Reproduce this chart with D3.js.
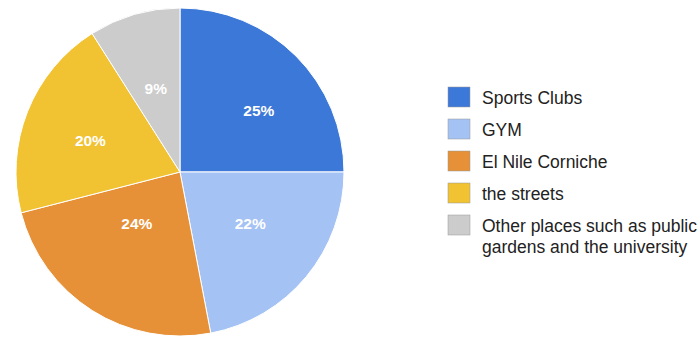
<!DOCTYPE html>
<html><head><meta charset="utf-8">
<script src="https://cdn.jsdelivr.net/npm/d3@7"></script>
<style>body{margin:0;background:#fff}svg{display:block}</style>
</head><body>
<svg id="c" width="700" height="338"></svg>
<script>
const categories = ["Sports Clubs", "GYM", "El Nile Corniche", "the streets", "Other places such as public gardens and the university"];
const values = [25, 22, 24, 20, 9];
const colors = ["#3c78d8", "#a4c2f4", "#e69138", "#f1c232", "#cccccc"];
const legendLines = [["Sports Clubs"], ["GYM"], ["El Nile Corniche"], ["the streets"], ["Other places such as public", "gardens and the university"]];
// label placement relative to each slice (layout only): radius fraction and angle offset in degrees
const labelRadiusFrac = [0.61, 0.53, 0.41, 0.58, 0.53];
const labelAngleOffset = [7, -3.5, 7.5, -2, 0];

const svg = d3.select("#c");
const cx = 180, cy = 172, r = 164;
const font = "Liberation Sans, Arial, Helvetica, sans-serif";
const pie = d3.pie().sort(null).value(d => d)(values);
const arc = d3.arc().innerRadius(0).outerRadius(r);
const total = d3.sum(values);
const g = svg.append("g").attr("transform", `translate(${cx},${cy})`);
g.selectAll("path").data(pie).join("path")
  .attr("d", arc).attr("fill", (d, i) => colors[i])
  .attr("stroke", "#fff").attr("stroke-width", 1);
g.selectAll("text").data(pie).join("text")
  .attr("transform", (d, i) => {
    const a = (d.startAngle + d.endAngle) / 2 + labelAngleOffset[i] * Math.PI / 180;
    const lr = r * labelRadiusFrac[i];
    return `translate(${lr * Math.sin(a)},${-lr * Math.cos(a)})`;
  })
  .attr("text-anchor", "middle").attr("dy", "0.35em")
  .attr("font-family", font)
  .attr("font-size", 15.5).attr("font-weight", "bold").attr("fill", "#fff")
  .text(d => Math.round(d.data / total * 100) + "%");

const lg = svg.append("g").attr("transform", "translate(448,87)");
const rowY = d3.scalePoint().domain(d3.range(categories.length)).range([0, 128]);
const items = lg.selectAll("g").data(categories).join("g")
  .attr("transform", (d, i) => `translate(0,${rowY(i)})`);
items.append("rect").attr("width", 22).attr("height", 20)
  .attr("fill", (d, i) => colors[i]).attr("stroke", "#999").attr("stroke-width", 0.5);
items.append("text").attr("x", 34).attr("y", 17)
  .attr("font-family", font).attr("font-size", 17.5).attr("fill", "#222")
  .selectAll("tspan").data((d, i) => legendLines[i]).join("tspan")
  .attr("x", 34).attr("dy", (d, j) => j ? 21 : 0).text(d => d);
</script>
</body></html>
